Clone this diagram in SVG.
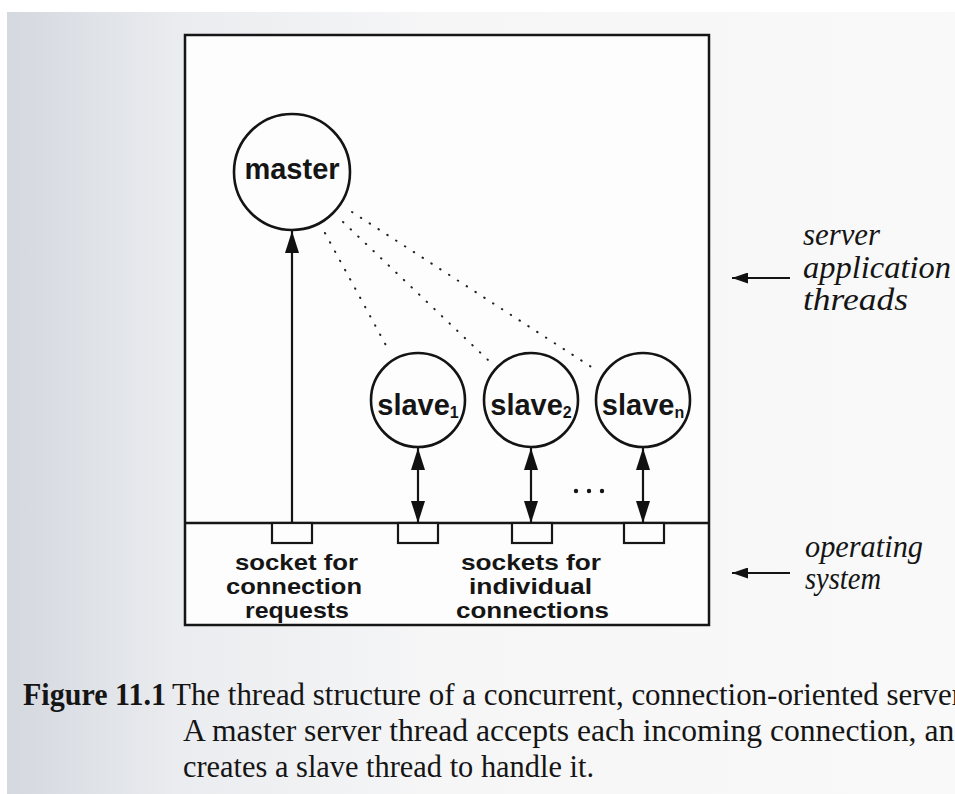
<svg xmlns="http://www.w3.org/2000/svg" width="955" height="794" viewBox="0 0 955 794">
  <defs>
    <linearGradient id="bg" x1="0" y1="0" x2="1" y2="0">
      <stop offset="0" stop-color="#d4d8df"/>
      <stop offset="0.18" stop-color="#eaecef"/>
      <stop offset="0.45" stop-color="#f6f6f7"/>
      <stop offset="1" stop-color="#f9f9f9"/>
    </linearGradient>
    <marker id="head" markerUnits="userSpaceOnUse" markerWidth="22" markerHeight="14" viewBox="0 0 22 14" refX="22" refY="7" orient="auto-start-reverse">
      <path d="M0,0 L22,7 L0,14 z" fill="#111"/>
    </marker>
    <marker id="small" markerUnits="userSpaceOnUse" markerWidth="16" markerHeight="11" viewBox="0 0 16 11" refX="16" refY="5.5" orient="auto">
      <path d="M0,0 L16,5.5 L0,11 z" fill="#111"/>
    </marker>
  </defs>
  <style>
    .box { fill: #fdfdfd; stroke: #161616; stroke-width: 2.5; }
    .line { stroke: #161616; stroke-width: 2.5; fill: none; }
    .sock { fill: #fdfdfd; stroke: #161616; stroke-width: 2.2; }
    .node { fill: #fdfdfd; stroke: #141414; stroke-width: 2.6; }
    .arrow { stroke: #141414; stroke-width: 2.2; fill: none; }
    .dot { stroke: #222; stroke-width: 2; stroke-linecap: round; stroke-dasharray: 0.5 10; fill: none; }
    .lbl { font-family: "Liberation Sans", Arial, sans-serif; font-weight: bold; fill: #151515; text-anchor: middle; }
    .sl { font-family: "Liberation Sans", Arial, sans-serif; font-weight: bold; fill: #151515; font-size: 22px; }
    .it { font-family: "Liberation Serif", "Times New Roman", serif; font-style: italic; font-size: 31px; fill: #151515; }
    .cap { font-family: "Liberation Serif", "Times New Roman", serif; font-size: 31px; fill: #151515; }
  </style>

  <rect x="0" y="0" width="955" height="794" fill="#ffffff"/>
  <rect x="7" y="12" width="948" height="782" fill="url(#bg)"/>

  <g id="frame">
    <rect class="box" x="185" y="35" width="524" height="590"/>
    <line class="line" x1="185" y1="523" x2="709" y2="523"/>
  </g>

  <g id="sockets">
    <rect class="sock" x="272" y="523" width="40" height="20"/>
    <rect class="sock" x="398" y="523" width="40" height="20"/>
    <rect class="sock" x="512" y="523" width="40" height="20"/>
    <rect class="sock" x="624" y="523" width="40" height="20"/>
  </g>

  <g id="connectors">
    <line class="arrow" x1="292" y1="523" x2="292" y2="231" marker-end="url(#head)"/>
    <line class="arrow" x1="418" y1="448" x2="418" y2="523" marker-start="url(#head)" marker-end="url(#head)"/>
    <line class="arrow" x1="531" y1="448" x2="531" y2="523" marker-start="url(#head)" marker-end="url(#head)"/>
    <line class="arrow" x1="643" y1="448" x2="643" y2="523" marker-start="url(#head)" marker-end="url(#head)"/>
    <line class="dot" x1="325" y1="233" x2="388" y2="349"/>
    <line class="dot" x1="343" y1="222" x2="488" y2="360"/>
    <line class="dot" x1="352" y1="212" x2="593" y2="368"/>
    <line class="arrow" x1="790" y1="278" x2="732" y2="278" marker-end="url(#small)"/>
    <line class="arrow" x1="790" y1="573" x2="732" y2="573" marker-end="url(#small)"/>
  </g>

  <g id="master">
    <circle class="node" cx="292" cy="172" r="58"/>
    <text class="lbl" x="292" y="179" font-size="29">master</text>
  </g>
  <g id="slave1">
    <circle class="node" cx="418" cy="400" r="47"/>
    <text class="lbl" x="418" y="415" font-size="29">slave<tspan font-size="16" dy="3">1</tspan></text>
  </g>
  <g id="slave2">
    <circle class="node" cx="531" cy="400" r="47"/>
    <text class="lbl" x="531" y="415" font-size="29">slave<tspan font-size="16" dy="3">2</tspan></text>
  </g>
  <g id="slaven">
    <circle class="node" cx="643" cy="400" r="47"/>
    <text class="lbl" x="643" y="415" font-size="29">slave<tspan font-size="16" dy="3">n</tspan></text>
  </g>

  <g id="ellipsis">
    <circle cx="576" cy="491" r="2.2" fill="#151515"/>
    <circle cx="589" cy="491" r="2.2" fill="#151515"/>
    <circle cx="602" cy="491" r="2.2" fill="#151515"/>
  </g>

  <g id="socket-labels">
    <text class="sl" x="235" y="570" textLength="123" lengthAdjust="spacingAndGlyphs">socket for</text>
    <text class="sl" x="226" y="594" textLength="136" lengthAdjust="spacingAndGlyphs">connection</text>
    <text class="sl" x="245" y="618" textLength="104" lengthAdjust="spacingAndGlyphs">requests</text>
    <text class="sl" x="461" y="570" textLength="140" lengthAdjust="spacingAndGlyphs">sockets for</text>
    <text class="sl" x="469" y="594" textLength="123" lengthAdjust="spacingAndGlyphs">individual</text>
    <text class="sl" x="456" y="618" textLength="153" lengthAdjust="spacingAndGlyphs">connections</text>
  </g>

  <g id="layer-labels">
    <text class="it" x="803" y="245" textLength="77" lengthAdjust="spacingAndGlyphs">server</text>
    <text class="it" x="803" y="278" textLength="148" lengthAdjust="spacingAndGlyphs">application</text>
    <text class="it" x="803" y="310" textLength="105" lengthAdjust="spacingAndGlyphs">threads</text>
    <text class="it" x="805" y="557" textLength="118" lengthAdjust="spacingAndGlyphs">operating</text>
    <text class="it" x="805" y="589" textLength="76" lengthAdjust="spacingAndGlyphs">system</text>
  </g>

  <g id="caption">
    <text class="cap" x="23" y="705" font-weight="bold" textLength="143" lengthAdjust="spacingAndGlyphs">Figure 11.1</text>
    <text class="cap" x="172" y="705" textLength="790" lengthAdjust="spacingAndGlyphs">The thread structure of a concurrent, connection-oriented server</text>
    <text class="cap" x="183" y="741" textLength="787" lengthAdjust="spacingAndGlyphs">A master server thread accepts each incoming connection, and</text>
    <text class="cap" x="183" y="777" textLength="411" lengthAdjust="spacingAndGlyphs">creates a slave thread to handle it.</text>
  </g>
</svg>
